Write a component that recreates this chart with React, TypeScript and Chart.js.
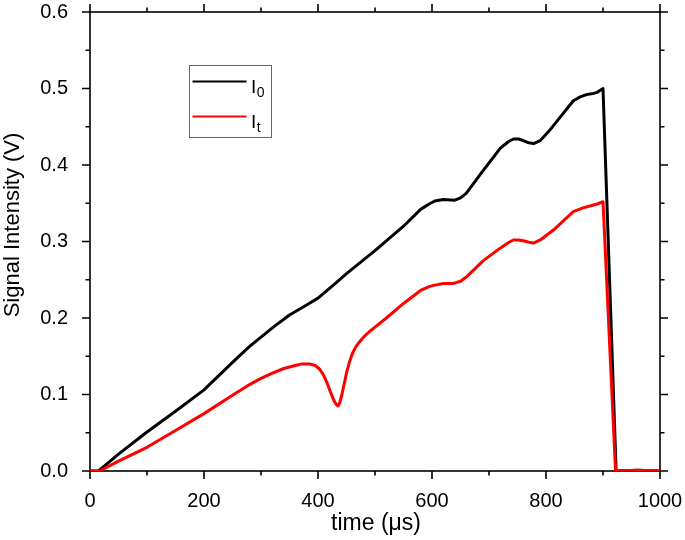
import React, { useEffect, useRef } from "react";
import { Chart, registerables } from "chart.js";

Chart.register(...registerables);

// ---- Data ----
const i0Time = [0, 15, 50, 100, 150, 200, 250, 280, 300, 325, 350, 380, 400, 430, 450, 500, 550, 580, 595, 605, 620, 640, 650, 660, 675, 690, 720, 735, 743, 752, 760, 770, 778, 790, 805, 820, 848, 860, 871, 880, 890, 900, 923, 960, 1000];
const i0Signal = [0, 0, 0.022, 0.051, 0.078, 0.106, 0.142, 0.163, 0.175, 0.19, 0.204, 0.217, 0.226, 0.245, 0.258, 0.288, 0.32, 0.342, 0.349, 0.353, 0.355, 0.354, 0.357, 0.363, 0.378, 0.393, 0.422, 0.431, 0.434, 0.434, 0.432, 0.429, 0.428, 0.432, 0.444, 0.458, 0.484, 0.489, 0.492, 0.493, 0.495, 0.5, 0.0, 0.001, 0.0];

const itTime = [0, 17, 50, 100, 150, 200, 250, 280, 300, 320, 340, 360, 372, 385, 395, 403, 410, 416, 422, 428, 432, 435, 438, 442, 446, 450, 455, 460, 466, 473, 480, 490, 500, 520, 550, 580, 595, 605, 620, 636, 650, 661, 690, 719, 735, 743, 752, 760, 770, 778, 790, 813, 848, 865, 880, 890, 900, 922, 960, 1000];
const itSignal = [0, 0, 0.013, 0.031, 0.053, 0.075, 0.099, 0.113, 0.121, 0.128, 0.134, 0.138, 0.14, 0.14, 0.138, 0.133, 0.125, 0.115, 0.103, 0.092, 0.087, 0.085, 0.089, 0.1, 0.114, 0.128, 0.142, 0.153, 0.162, 0.169, 0.175, 0.182, 0.188, 0.2, 0.219, 0.236, 0.241, 0.243, 0.245, 0.245, 0.248, 0.254, 0.275, 0.291, 0.299, 0.302, 0.302, 0.301, 0.299, 0.298, 0.302, 0.315, 0.339, 0.344, 0.347, 0.349, 0.352, 0.0, 0.001, 0.0];

const seriesBase = ["I", "I"];
const seriesSub = ["0", "t"];
const seriesColors = ["#000000", "#ff0000"];

const xTitle = "time (\u03bcs)";
const yTitle = "Signal Intensity (V)";
const xMin = 0, xMax = 1000, xMajor = 200, xMinor = 100;
const yMin = 0, yMax = 0.6, yMajor = 0.1, yMinor = 0.05;

const FONT = "'Liberation Sans', Arial, Helvetica, sans-serif";

const framePlugin = {
  id: "frameTicks",
  beforeDatasetsDraw(chart: any) {
    const { ctx, chartArea } = chart;
    const { left, right, top, bottom } = chartArea;
    const xs = chart.scales.x;
    const ys = chart.scales.y;
    ctx.save();
    ctx.strokeStyle = "#000";
    ctx.lineWidth = 1.6;
    ctx.strokeRect(left, top, right - left, bottom - top);
    const majLen = 8, minLen = 4.5;
    ctx.beginPath();
    const nx = Math.round((xMax - xMin) / xMinor);
    for (let i = 0; i <= nx; i++) {
      const v = xMin + i * xMinor;
      const px = xs.getPixelForValue(v);
      const isMaj = Math.abs(v / xMajor - Math.round(v / xMajor)) < 1e-6;
      const len = isMaj ? majLen : minLen;
      ctx.moveTo(px, bottom); ctx.lineTo(px, bottom + len);
      ctx.moveTo(px, top); ctx.lineTo(px, top - len);
    }
    const ny = Math.round((yMax - yMin) / yMinor);
    for (let i = 0; i <= ny; i++) {
      const v = yMin + i * yMinor;
      const py = ys.getPixelForValue(v);
      const isMaj = i % Math.round(yMajor / yMinor) === 0;
      const len = isMaj ? majLen : minLen;
      ctx.moveTo(left, py); ctx.lineTo(left - len, py);
      ctx.moveTo(right, py); ctx.lineTo(right + len, py);
    }
    ctx.stroke();

    // axis titles
    ctx.fillStyle = "#000";
    ctx.font = `23px ${FONT}`;
    ctx.textAlign = "center";
    ctx.textBaseline = "alphabetic";
    ctx.fillText(xTitle, (left + right) / 2 + 1, bottom + 59);
    ctx.save();
    ctx.translate(left - 71, (top + bottom) / 2 - 16.5);
    ctx.rotate(-Math.PI / 2);
    ctx.font = `22px ${FONT}`;
    ctx.fillText(yTitle, 0, 0);
    ctx.restore();
    ctx.restore();
  },
  afterDraw(chart: any) {
    const { ctx, chartArea } = chart;
    const bx = Math.round(chartArea.left + 99) + 0.5;
    const by = Math.round(chartArea.top + 53) + 0.5;
    const bw = 82, bh = 72;
    ctx.save();
    ctx.fillStyle = "#fff";
    ctx.fillRect(bx, by, bw, bh);
    ctx.strokeStyle = "#666";
    ctx.lineWidth = 1;
    ctx.strokeRect(bx, by, bw, bh);
    chart.data.datasets.forEach((ds: any, i: number) => {
      const ly = by + 16 + i * 35;
      ctx.strokeStyle = ds.borderColor;
      ctx.lineWidth = 2;
      ctx.beginPath();
      ctx.moveTo(bx + 3, ly);
      ctx.lineTo(bx + 57, ly);
      ctx.stroke();
      ctx.fillStyle = "#000";
      ctx.textAlign = "left";
      ctx.textBaseline = "alphabetic";
      ctx.font = `19px ${FONT}`;
      const base = seriesBase[i];
      ctx.fillText(base, bx + 61.5, ly + 11);
      const w = ctx.measureText(base).width;
      ctx.font = `14px ${FONT}`;
      ctx.fillText(seriesSub[i], bx + 61.5 + w + 0.5, ly + 15);
    });
    ctx.restore();
  },
};

const zeroPad = (s: any) => {
  s.paddingTop = 0;
  s.paddingBottom = 0;
  s.paddingLeft = 0;
  s.paddingRight = 0;
};

export default function App() {
  const ref = useRef<HTMLCanvasElement | null>(null);
  useEffect(() => {
    if (!ref.current) return;
    const tickFont = { family: FONT, size: 20 };
    const chart = new Chart(ref.current, {
      type: "line",
      data: {
        datasets: [
          {
            label: seriesBase[0] + seriesSub[0],
            data: i0Time.map((t, i) => ({ x: t, y: i0Signal[i] })),
            borderColor: seriesColors[0],
            backgroundColor: seriesColors[0],
            borderWidth: 3,
            pointRadius: 0,
            tension: 0,
            borderJoinStyle: "round",
            order: 0,
          },
          {
            label: seriesBase[1] + seriesSub[1],
            data: itTime.map((t, i) => ({ x: t, y: itSignal[i] })),
            borderColor: seriesColors[1],
            backgroundColor: seriesColors[1],
            borderWidth: 3,
            pointRadius: 0,
            tension: 0,
            borderJoinStyle: "round",
            order: -1,
          },
        ],
      },
      options: {
        responsive: false,
        animation: false,
        layout: { padding: { top: 12, right: 25, left: 0, bottom: 0 } },
        plugins: { legend: { display: false }, tooltip: { enabled: false } },
        scales: {
          x: {
            type: "linear",
            min: xMin,
            max: xMax,
            grid: { display: false },
            border: { display: false },
            ticks: {
              stepSize: xMajor,
              padding: 10,
              font: tickFont,
              color: "#000",
              maxRotation: 0,
              autoSkip: false,
              callback: (v: any) => String(Math.round(Number(v))),
            },
            afterFit: (s: any) => { s.height = 69; zeroPad(s); },
          },
          y: {
            type: "linear",
            min: yMin,
            max: yMax,
            grid: { display: false },
            border: { display: false },
            ticks: {
              stepSize: yMajor,
              padding: 14,
              font: tickFont,
              color: "#000",
              callback: (v: any) => Number(v).toFixed(1),
            },
            afterFit: (s: any) => { s.width = 90; zeroPad(s); },
          },
        },
      } as any,
      plugins: [framePlugin],
    });
    return () => chart.destroy();
  }, []);
  return (
    <div style={{ position: "absolute", left: 0, top: 0, width: 685, height: 540, background: "#fff" }}>
      <canvas ref={ref} width={685} height={540} style={{ display: "block" }} />
    </div>
  );
}
